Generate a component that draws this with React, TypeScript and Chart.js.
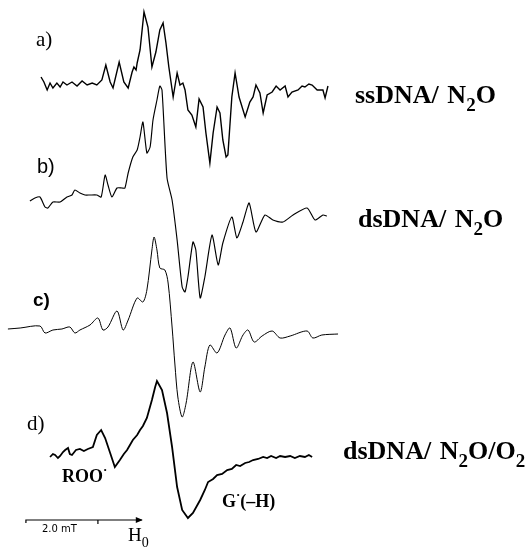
import React, { useEffect, useRef } from "react";
import { Chart, registerables } from "chart.js";

Chart.register(...registerables);

// ---- data (field in mT, signal in arbitrary units) ----
const fieldA = [1.14,1.22,1.31,1.39,1.47,1.58,1.67,1.75,1.86,2.00,2.14,2.28,2.42,2.56,2.69,2.83,2.94,3.06,3.14,3.31,3.44,3.56,3.67,3.72,3.78,3.81,3.89,4.00,4.11,4.22,4.33,4.44,4.53,4.61,4.69,4.81,4.92,5.00,5.08,5.14,5.22,5.33,5.44,5.53,5.64,5.72,5.83,5.92,6.03,6.11,6.19,6.28,6.33,6.44,6.53,6.64,6.81,6.94,7.03,7.11,7.22,7.31,7.42,7.56,7.67,7.78,7.92,8.00,8.11,8.28,8.39,8.47,8.58,8.67,8.81,8.97,9.03,9.11];
const signalA = [0.8,0.3,-0.5,0.2,-0.3,0.2,-0.2,0.3,0.0,0.3,-0.1,0.4,0.0,0.2,0.0,0.5,2.0,0.3,-0.3,2.3,0.3,-0.3,1.3,1.8,1.5,2.2,3.5,7.3,5.8,1.8,3.3,5.5,6.2,4.2,1.8,-1.2,1.2,0.0,0.2,-0.5,-2.5,-3.0,-4.2,-1.4,-2.2,-4.8,-7.8,-4.8,-2.2,-2.8,-5.5,-7.2,-7.0,-1.2,1.2,-1.2,-3.2,-1.7,-1.2,0.0,-0.8,-2.8,-1.0,-0.7,-0.1,-0.5,-0.1,-1.2,-0.7,-0.5,-0.1,-0.2,0.1,0.0,-0.5,-0.5,-1.3,-0.1];

const fieldB = [0.83,0.97,1.11,1.25,1.33,1.47,1.67,1.86,2.00,2.08,2.22,2.36,2.50,2.69,2.81,2.92,3.00,3.11,3.25,3.39,3.47,3.56,3.69,3.81,3.89,3.97,4.08,4.17,4.25,4.36,4.44,4.50,4.64,4.78,4.92,5.06,5.14,5.22,5.36,5.44,5.56,5.69,5.89,6.06,6.19,6.44,6.58,6.75,6.92,7.11,7.36,7.58,7.86,8.14,8.53,8.75,8.97,9.08];
const signalB = [0.4,0.7,0.8,-0.2,-0.3,0.3,0.3,0.8,1.0,1.5,1.2,1.0,1.0,1.0,0.8,3.0,2.0,0.8,1.7,1.7,1.7,3.2,4.8,5.5,6.8,8.3,5.2,5.8,8.5,10.5,11.9,11.5,2.7,0.5,-3.5,-8.2,-8.7,-7.2,-3.7,-4.5,-9.3,-7.2,-3.0,-6.0,-3.8,-1.2,-3.3,-1.7,0.2,-2.7,-1.0,-1.5,-1.7,-1.0,-0.3,-1.5,-1.0,-1.1];

const fieldC = [0.22,0.56,1.11,1.25,1.47,1.72,1.94,2.08,2.22,2.50,2.72,2.86,3.00,3.25,3.42,3.56,3.81,3.97,4.08,4.22,4.28,4.36,4.44,4.58,4.67,4.78,4.86,4.94,5.06,5.17,5.36,5.56,5.69,5.83,6.03,6.25,6.39,6.56,6.75,6.89,7.06,7.28,7.56,7.78,8.06,8.53,8.69,8.94,9.39];
const signalC = [0.1,0.2,0.4,-0.3,0.0,0.1,0.3,-0.3,0.0,0.5,1.2,0.0,0.3,1.9,0.0,1.0,3.2,2.8,4.0,8.0,9.3,8.0,6.2,6.0,4.7,0.3,-3.5,-6.7,-8.7,-7.3,-3.2,-6.2,-3.7,-1.5,-2.3,-0.5,0.2,-1.8,-0.5,0.0,-1.2,-0.6,-0.1,-0.8,-0.6,-0.1,-0.8,-0.5,-0.4];

const fieldD = [1.39,1.47,1.53,1.61,1.67,1.75,1.81,1.89,1.94,2.00,2.11,2.22,2.33,2.44,2.58,2.69,2.81,2.92,3.06,3.19,3.33,3.44,3.53,3.61,3.69,3.81,3.89,3.97,4.08,4.22,4.31,4.36,4.50,4.64,4.78,4.92,5.06,5.22,5.36,5.56,5.69,5.78,5.92,6.03,6.17,6.31,6.44,6.56,6.67,6.81,6.92,7.03,7.17,7.31,7.42,7.53,7.67,7.78,7.92,8.06,8.19,8.33,8.47,8.58,8.67];
const signalD = [-0.2,0.1,0.0,-0.3,-0.1,0.3,0.5,0.7,0.1,0.0,0.5,0.6,0.4,0.6,0.8,2.0,2.5,1.7,0.2,-1.2,-0.5,0.1,0.5,1.0,1.5,2.0,2.5,2.9,3.7,5.5,6.8,7.4,6.5,4.2,0.8,-3.2,-5.5,-6.3,-5.8,-4.5,-3.5,-2.7,-2.4,-2.0,-1.9,-1.5,-1.4,-1.0,-1.1,-0.8,-0.7,-0.5,-0.4,-0.2,-0.3,-0.1,-0.3,-0.1,-0.2,-0.1,-0.3,-0.1,-0.2,0.0,-0.2];

const spectrumOffsets = [46.2, 34.2, 21.7, 9.2];
const panelLabels = ["a)", "b)", "c)", "d)"];
const sampleLabels = ["ssDNA/ N_2O", "dsDNA/ N_2O", "dsDNA/ N_2O/O_2"];
const scaleBarField = [0.72, 2.72, 3.94]; // start, 2.0 mT tick, arrow end
const scaleBarLevel = 2.7;

const W = 527;
const H = 547;

function drawRich(ctx: CanvasRenderingContext2D, text: string, x: number, y: number, size: number, bold: boolean, family: string) {
  let cx = x;
  const big = `${bold ? "bold " : ""}${size}px ${family}`;
  const small = `${bold ? "bold " : ""}${Math.round(size * 0.72)}px ${family}`;
  for (let i = 0; i < text.length; i++) {
    let ch = text[i];
    let dy = 0;
    let f = big;
    if (ch === "_" || ch === "^") {
      dy = ch === "_" ? size * 0.3 : -size * 0.42;
      f = small;
      i++;
      ch = text[i];
    }
    ctx.font = f;
    ctx.fillText(ch, cx, y + dy);
    cx += ctx.measureText(ch).width;
    if (ch === " ") cx += size * 0.08;
  }
}

const annotate = {
  id: "annotate",
  afterDraw(chart: any) {
    const ctx: CanvasRenderingContext2D = chart.ctx;
    const xs = chart.scales.x;
    const ys = chart.scales.y;
    ctx.save();
    ctx.fillStyle = "#000";
    ctx.strokeStyle = "#000";
    ctx.textBaseline = "alphabetic";
    const serif = "'Liberation Serif', 'Times New Roman', serif";
    const sans = "'Liberation Sans', Arial, sans-serif";

    // panel letters
    ctx.font = `21px ${serif}`;
    ctx.fillText(panelLabels[0], 36, 46);
    ctx.font = `20px ${sans}`;
    ctx.fillText(panelLabels[1], 37, 173);
    ctx.font = `bold 19px ${sans}`;
    ctx.fillText(panelLabels[2], 33, 306);
    ctx.font = `21px ${serif}`;
    ctx.fillText(panelLabels[3], 27, 430);

    // sample labels
    drawRich(ctx, sampleLabels[0], 355, 103, 26, true, serif);
    drawRich(ctx, sampleLabels[1], 358, 227, 26, true, serif);
    drawRich(ctx, sampleLabels[2], 343, 459, 26, true, serif);

    // radical labels
    drawRich(ctx, "ROO^·", 62, 482, 18, true, serif);
    drawRich(ctx, "G^·(–H)", 222, 507, 18, true, serif);

    // scale bar
    const x0 = xs.getPixelForValue(scaleBarField[0]);
    const x1 = xs.getPixelForValue(scaleBarField[1]);
    const x2 = xs.getPixelForValue(scaleBarField[2]);
    const yb = ys.getPixelForValue(scaleBarLevel);
    ctx.lineWidth = 1.2;
    ctx.beginPath();
    ctx.moveTo(x0, yb + 3);
    ctx.lineTo(x0, yb);
    ctx.lineTo(x2, yb);
    ctx.moveTo(x1, yb);
    ctx.lineTo(x1, yb + 4);
    ctx.stroke();
    ctx.beginPath();
    ctx.moveTo(x2 + 1, yb);
    ctx.lineTo(x2 - 6, yb - 3);
    ctx.lineTo(x2 - 6, yb + 3);
    ctx.closePath();
    ctx.fill();
    ctx.font = `10px 'DejaVu Sans', sans-serif`;
    ctx.fillText("2.0 mT", x0 + 16, yb + 12);
    drawRich(ctx, "H_0", 128, 541, 19, false, serif);
    ctx.restore();
  },
};

export default function App() {
  const ref = useRef<HTMLCanvasElement | null>(null);
  useEffect(() => {
    if (!ref.current) return;
    const series = [
      [fieldA, signalA, 1.4, 0],
      [fieldB, signalB, 1.15, 0.2],
      [fieldC, signalC, 1.0, 0.3],
      [fieldD, signalD, 1.8, 0],
    ] as [number[], number[], number, number][];
    const chart = new Chart(ref.current, {
      type: "line",
      data: {
        datasets: series.map(([f, s, w, t], k) => ({
          label: panelLabels[k],
          data: f.map((x, i) => ({ x, y: s[i] + spectrumOffsets[k] })),
          borderColor: "#000",
          borderWidth: w,
          pointRadius: 0,
          tension: t,
          fill: false,
        })),
      },
      options: {
        animation: false,
        responsive: false,
        devicePixelRatio: 1,
        layout: { padding: 0 },
        plugins: { legend: { display: false }, tooltip: { enabled: false } },
        scales: {
          x: { type: "linear", display: false, min: 0, max: W / 36 },
          y: { type: "linear", display: false, min: 0, max: H / 10 },
        },
      },
      plugins: [annotate],
    });
    return () => chart.destroy();
  }, []);
  return (
    <div style={{ position: "fixed", left: 0, top: 0, width: W, height: H, background: "#fff" }}>
      <canvas ref={ref} width={W} height={H} />
    </div>
  );
}
